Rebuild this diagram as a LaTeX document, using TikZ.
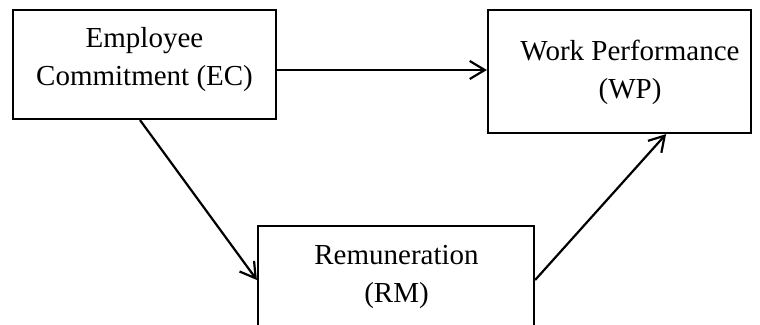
\documentclass[tikz,border=0pt]{standalone}
\usepackage{fontspec}
\setmainfont{Liberation Serif}
\usetikzlibrary{arrows.meta}
\tikzset{
  box/.style={draw=black, line width=2.2pt, rectangle, inner sep=0pt},
  lbl/.style={align=center, inner sep=0pt, font=\fontsize{29}{38}\selectfont},
  arr/.style={draw=black, line width=2.2pt, -{Straight Barb[length=15pt,width=18pt,line width=2.2pt]}}
}
\begin{document}
\begin{tikzpicture}[x=1pt,y=-1pt]
\useasboundingbox (0,0) rectangle (760,324);
\clip (0,0) rectangle (760,324);
\node[box, minimum width=263pt, minimum height=109pt] (ec) at (144.5,64.5) {};
\node[box, minimum width=263pt, minimum height=123pt] (wp) at (619.5,71.5) {};
\node[box, minimum width=276pt, minimum height=108pt] (rm) at (396,280) {};
\node[lbl] (ect) at (144.5,60) {Employee\\Commitment (EC)};
\node[lbl] (wpt) at (630,72) {Work Performance\\(WP)};
\node[lbl] (rmt) at (396.5,277) {Remuneration\\(RM)};
\draw[arr] ([yshift=-5.5pt]ec.east) -- ([yshift=1.5pt]wp.west);
\draw[arr] ([xshift=-4.5pt]ec.south) -- (rm.west);
\draw[arr] (rm.east) -- ([xshift=-86pt]wp.south east);
\end{tikzpicture}
\end{document}
